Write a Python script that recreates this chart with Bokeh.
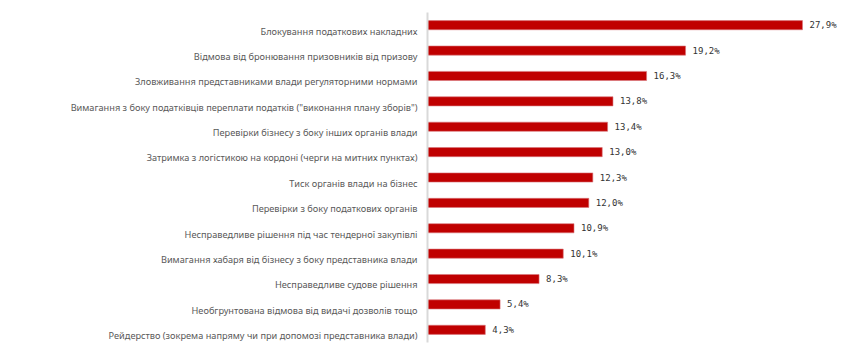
from bokeh.plotting import figure
from bokeh.models import ColumnDataSource, Range1d, LinearAxis, FixedTicker
from bokeh.core.properties import value
from bokeh.embed import file_html
from bokeh.resources import INLINE

categories = [
    "Блокування податкових накладних",
    "Відмова від бронювання призовників від призову",
    "Зловживання представниками влади регуляторними нормами",
    "Вимагання з боку податківців переплати податків (\"виконання плану зборів\")",
    "Перевірки бізнесу з боку інших органів влади",
    "Затримка з логістикою на кордоні (черги на митних пунктах)",
    "Тиск органів влади на бізнес",
    "Перевірки з боку податкових органів",
    "Несправедливе рішення під час тендерної закупівлі",
    "Вимагання хабаря від бізнесу з боку представника влади",
    "Несправедливе судове рішення",
    "Необгрунтована відмова від видачі дозволів тощо",
    "Рейдерство (зокрема напряму чи при допомозі представника влади)",
]
values = [27.9, 19.2, 16.3, 13.8, 13.4, 13.0, 12.3, 12.0, 10.9, 10.1, 8.3, 5.4, 4.3]
value_labels = [f"{v:.1f}%".replace(".", ",") for v in values]

n = len(categories)
slot = [(n - 1 - i) + 0.5 for i in range(n)]  # category slot centres, first at top
src = ColumnDataSource(dict(cat=categories, y=slot, val=values, lab=value_labels))

p = figure(width=850, height=353, output_backend="svg", toolbar_location=None,
           y_range=Range1d(0, n), x_range=(0, 31.1),
           min_border_left=427, min_border_right=5,
           min_border_top=12, min_border_bottom=11)

p.hbar(y="y", right="val", left=0, height=0.36, source=src,
       fill_color="#c00000", line_color="#d9767a", line_width=0.6)

p.text(x="val", y="y", text="lab", source=src, x_offset=7,
       text_font=value("DejaVu Sans Mono"), text_font_size="9px",
       text_color="#333333", text_baseline="middle", text_align="left")

# label axis: same slots, labels sit slightly below each bar
shift = 0.23
p.extra_y_ranges = {"lab": Range1d(start=shift, end=n + shift)}
lab_axis = LinearAxis(y_range_name="lab", ticker=FixedTicker(ticks=slot),
                      major_label_overrides={t: c for t, c in zip(slot, categories)})
lab_axis.axis_line_color = "#d9d9d9"
lab_axis.axis_line_width = 2
lab_axis.major_tick_line_color = None
lab_axis.minor_tick_line_color = None
lab_axis.major_label_standoff = 4
lab_axis.major_label_text_font = "Noto Sans"
lab_axis.major_label_text_font_size = "9.2px"
lab_axis.major_label_text_color = "#595959"
p.add_layout(lab_axis, "left")

p.xaxis.visible = False
p.yaxis[0].visible = False
p.xgrid.visible = False
p.ygrid.visible = False
p.outline_line_color = None
p.background_fill_color = "white"
p.border_fill_color = "white"

open("out.html", "w").write(file_html(p, INLINE))
